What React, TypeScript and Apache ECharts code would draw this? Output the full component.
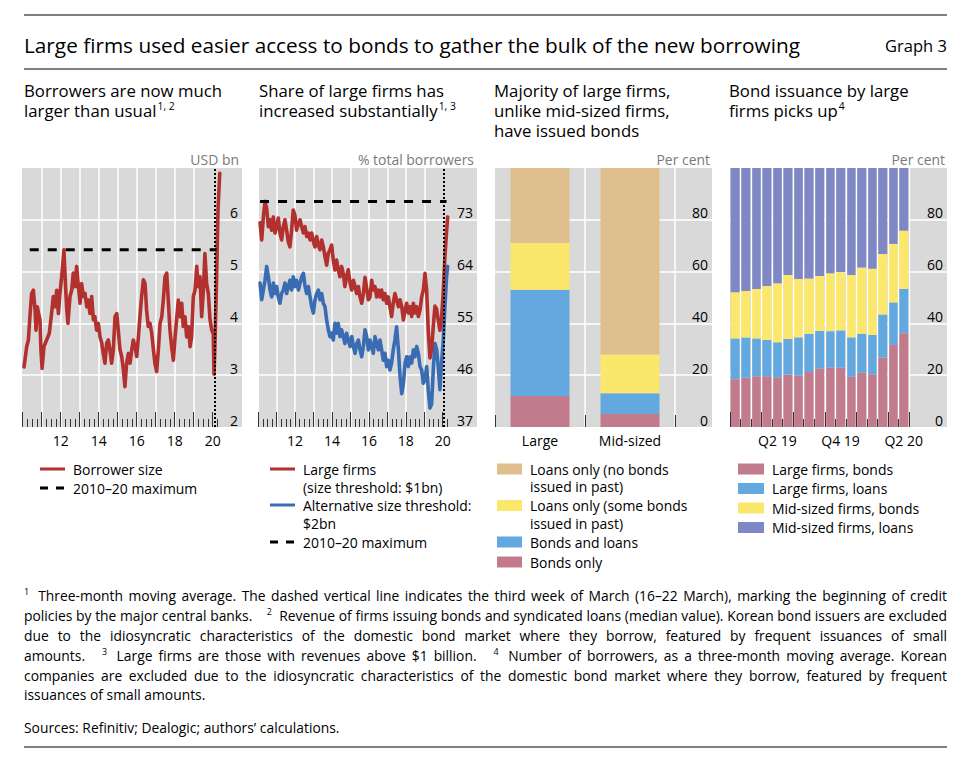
import React, { useEffect, useRef } from 'react';
import * as echarts from 'echarts';

// ---------------- DATA ----------------
// Panel 1: median borrower size, USD bn (decimal year, value)
const p1BorrowerSize: [number, number][] = [
  [2010.07, 3.16], [2010.21, 3.55], [2010.30, 3.68], [2010.38, 4.13], [2010.47, 4.58], [2010.56, 4.64],
  [2010.65, 4.26], [2010.70, 3.87], [2010.77, 4.32], [2010.84, 4.19], [2010.91, 4.07], [2010.96, 3.49],
  [2011.02, 3.13], [2011.12, 3.55], [2011.26, 3.68], [2011.40, 3.81], [2011.52, 4.19], [2011.61, 4.52],
  [2011.70, 4.32], [2011.79, 4.64], [2011.88, 4.19], [2011.96, 4.58], [2012.05, 4.90], [2012.10, 5.10],
  [2012.17, 5.42], [2012.24, 4.84], [2012.31, 4.32], [2012.38, 4.00], [2012.49, 4.52], [2012.58, 4.64],
  [2012.66, 4.97], [2012.75, 4.71], [2012.84, 5.10], [2012.93, 4.71], [2013.02, 4.39], [2013.10, 4.77],
  [2013.19, 4.52], [2013.28, 4.58], [2013.37, 4.32], [2013.45, 4.45], [2013.54, 4.19], [2013.63, 4.52],
  [2013.72, 4.07], [2013.80, 4.13], [2013.89, 3.87], [2013.98, 4.00], [2014.07, 3.74], [2014.16, 3.62],
  [2014.24, 3.42], [2014.33, 3.23], [2014.42, 3.62], [2014.51, 3.68], [2014.59, 3.49], [2014.68, 3.23],
  [2014.77, 3.49], [2014.86, 4.13], [2014.95, 4.19], [2015.03, 3.87], [2015.12, 3.49], [2015.21, 3.36],
  [2015.30, 3.10], [2015.38, 2.78], [2015.47, 3.23], [2015.56, 3.42], [2015.65, 3.23], [2015.74, 3.49],
  [2015.82, 3.68], [2015.91, 3.55], [2016.00, 3.36], [2016.09, 3.74], [2016.17, 4.13], [2016.26, 4.52],
  [2016.35, 4.84], [2016.44, 4.77], [2016.52, 4.26], [2016.61, 3.94], [2016.70, 4.00], [2016.79, 3.81],
  [2016.88, 3.49], [2016.96, 3.23], [2017.05, 3.07], [2017.14, 3.49], [2017.23, 4.00], [2017.32, 4.13],
  [2017.40, 4.45], [2017.49, 4.90], [2017.58, 4.97], [2017.67, 4.39], [2017.75, 3.87], [2017.84, 3.55],
  [2017.93, 3.29], [2018.02, 3.74], [2018.10, 4.07], [2018.19, 4.45], [2018.28, 4.13], [2018.37, 4.39],
  [2018.45, 3.94], [2018.54, 4.13], [2018.63, 3.74], [2018.72, 3.94], [2018.81, 3.55], [2018.89, 3.74],
  [2018.98, 4.52], [2019.07, 4.64], [2019.16, 5.10], [2019.24, 4.71], [2019.33, 4.90], [2019.42, 4.13],
  [2019.51, 4.64], [2019.59, 5.35], [2019.68, 4.77], [2019.77, 4.58], [2019.86, 4.07], [2019.95, 3.87],
  [2020.03, 3.80], [2020.07, 3.02], [2020.12, 3.60], [2020.20, 4.80], [2020.28, 6.20], [2020.37, 6.90],
];
const p1Maximum = 5.42;
const p1MaximumSpan = [2010.37, 2020.2];
const p1PolicyWeek = 2020.12;

// Panel 2: share of large firms, % of total borrowers
const p2LargeFirms: [number, number][] = [
  [2010.10, 72.5], [2010.19, 69.5], [2010.28, 73.5], [2010.37, 76.2], [2010.46, 75.0], [2010.55, 71.8],
  [2010.64, 73.0], [2010.73, 71.2], [2010.82, 73.5], [2010.91, 70.7], [2011.00, 71.8], [2011.09, 73.3],
  [2011.18, 70.7], [2011.27, 69.5], [2011.36, 71.8], [2011.45, 73.0], [2011.54, 71.2], [2011.63, 69.2],
  [2011.72, 68.3], [2011.81, 71.2], [2011.90, 74.7], [2011.99, 73.8], [2012.08, 71.2], [2012.18, 72.4],
  [2012.27, 73.0], [2012.36, 71.8], [2012.45, 70.7], [2012.54, 71.8], [2012.63, 70.1], [2012.72, 70.7],
  [2012.81, 69.5], [2012.90, 70.7], [2012.99, 69.2], [2013.08, 68.3], [2013.17, 70.1], [2013.26, 68.6],
  [2013.35, 67.8], [2013.44, 69.5], [2013.53, 68.3], [2013.62, 66.6], [2013.71, 65.1], [2013.80, 67.2],
  [2013.89, 67.8], [2013.98, 68.6], [2014.07, 66.0], [2014.16, 64.3], [2014.25, 66.0], [2014.34, 64.3],
  [2014.43, 63.1], [2014.52, 64.9], [2014.61, 63.7], [2014.70, 61.4], [2014.79, 63.1], [2014.88, 64.3],
  [2014.98, 62.0], [2015.07, 60.8], [2015.16, 62.5], [2015.25, 61.4], [2015.34, 60.2], [2015.43, 61.4],
  [2015.52, 59.6], [2015.61, 58.5], [2015.70, 60.2], [2015.79, 63.0], [2015.88, 61.0], [2015.97, 59.1],
  [2016.06, 59.6], [2016.15, 62.5], [2016.24, 60.8], [2016.33, 61.4], [2016.42, 59.6], [2016.51, 60.8],
  [2016.60, 59.6], [2016.69, 60.8], [2016.78, 59.1], [2016.87, 60.2], [2016.96, 58.5], [2017.05, 59.6],
  [2017.14, 57.9], [2017.23, 56.2], [2017.32, 58.5], [2017.41, 60.2], [2017.50, 59.1], [2017.60, 57.9],
  [2017.69, 59.1], [2017.78, 57.9], [2017.87, 55.6], [2017.96, 57.3], [2018.05, 58.5], [2018.14, 56.8],
  [2018.23, 57.9], [2018.32, 56.2], [2018.41, 58.5], [2018.50, 56.8], [2018.59, 57.9], [2018.68, 56.2],
  [2018.77, 57.3], [2018.86, 59.6], [2018.95, 60.8], [2019.04, 63.7], [2019.13, 60.8], [2019.22, 53.5],
  [2019.31, 49.0], [2019.40, 50.5], [2019.49, 54.5], [2019.58, 58.0], [2019.67, 57.5], [2019.76, 55.5],
  [2019.85, 53.8], [2019.94, 56.0], [2020.03, 60.5], [2020.12, 66.5], [2020.21, 71.0], [2020.27, 73.5],
];
const p2AltThreshold: [number, number][] = [
  [2010.10, 62.0], [2010.19, 59.1], [2010.28, 60.8], [2010.37, 62.5], [2010.46, 64.9], [2010.55, 63.1],
  [2010.64, 60.8], [2010.73, 59.6], [2010.82, 62.0], [2010.91, 60.2], [2011.00, 61.4], [2011.09, 59.6],
  [2011.18, 58.5], [2011.27, 60.2], [2011.36, 60.8], [2011.45, 62.0], [2011.54, 60.2], [2011.63, 61.4],
  [2011.72, 62.5], [2011.81, 60.8], [2011.90, 63.1], [2011.99, 61.4], [2012.08, 62.5], [2012.18, 60.8],
  [2012.27, 62.0], [2012.36, 63.1], [2012.45, 63.7], [2012.54, 61.4], [2012.63, 60.2], [2012.72, 61.4],
  [2012.81, 59.6], [2012.90, 57.9], [2012.99, 56.8], [2013.08, 59.1], [2013.17, 60.2], [2013.26, 60.8],
  [2013.35, 59.1], [2013.44, 60.2], [2013.53, 58.5], [2013.62, 57.9], [2013.71, 55.6], [2013.80, 53.9],
  [2013.89, 52.7], [2013.98, 53.3], [2014.07, 52.1], [2014.16, 55.0], [2014.25, 53.3], [2014.34, 55.0],
  [2014.43, 52.7], [2014.52, 53.9], [2014.61, 52.7], [2014.70, 51.5], [2014.79, 53.3], [2014.88, 52.1],
  [2014.98, 51.0], [2015.07, 52.7], [2015.16, 51.0], [2015.25, 49.8], [2015.34, 51.5], [2015.43, 52.1],
  [2015.52, 50.4], [2015.61, 49.2], [2015.70, 51.0], [2015.79, 53.9], [2015.88, 52.7], [2015.97, 50.4],
  [2016.06, 52.1], [2016.15, 51.0], [2016.24, 49.8], [2016.33, 52.7], [2016.42, 51.5], [2016.51, 50.4],
  [2016.60, 52.1], [2016.69, 50.4], [2016.78, 48.6], [2016.87, 49.8], [2016.96, 47.5], [2017.05, 48.6],
  [2017.14, 46.9], [2017.23, 48.1], [2017.32, 50.4], [2017.41, 52.1], [2017.50, 54.4], [2017.60, 50.4],
  [2017.69, 45.7], [2017.78, 42.8], [2017.87, 44.6], [2017.96, 48.1], [2018.05, 49.2], [2018.14, 47.5],
  [2018.23, 49.2], [2018.32, 48.1], [2018.41, 50.4], [2018.50, 49.2], [2018.59, 51.0], [2018.68, 49.8],
  [2018.77, 47.5], [2018.86, 46.9], [2018.95, 44.6], [2019.04, 45.2], [2019.13, 47.5], [2019.22, 43.4],
  [2019.31, 40.3], [2019.40, 41.0], [2019.49, 47.0], [2019.58, 51.5], [2019.67, 50.5], [2019.76, 47.5],
  [2019.85, 43.5], [2019.94, 48.1], [2020.03, 52.1], [2020.12, 57.9], [2020.21, 63.1], [2020.27, 64.9],
];
const p2Maximum = 76.2;
const p2MaximumSpan = [2010.1, 2020.21];
const p2PolicyWeek = 2020.03;

const yearTickLabels = [2012, 2014, 2016, 2018, 2020];

// Panel 3: per cent of firms
const p3Categories = ['Large', 'Mid-sized'];
const p3BondsOnly = [12, 5];
const p3BondsAndLoans = [41, 8];
const p3LoansSomeBonds = [18, 15];
const p3LoansNoBonds = [29, 72];

// Panel 4: per cent of borrowers, monthly
const p4Months = [
  '2019-01', '2019-02', '2019-03', '2019-04', '2019-05', '2019-06', '2019-07', '2019-08', '2019-09',
  '2019-10', '2019-11', '2019-12', '2020-01', '2020-02', '2020-03', '2020-04', '2020-05',
];
const p4LabelMonths = ['2019-05', '2019-11', '2020-05'];
const p4LargeBonds = [18.4, 19.0, 19.6, 19.6, 19.0, 20.3, 19.8, 21.2, 22.6, 23.0, 22.9, 19.4, 21.0, 20.4, 26.8, 31.7, 36.2];
const p4LargeLoans = [15.8, 15.6, 14.6, 14.0, 13.7, 13.7, 14.8, 14.7, 14.5, 14.0, 14.4, 15.2, 15.0, 15.1, 16.6, 16.4, 17.1];
const p4MidBonds = [17.8, 17.9, 19.1, 20.8, 22.8, 24.7, 22.5, 21.4, 21.2, 22.4, 22.5, 24.1, 25.6, 25.6, 23.4, 22.6, 22.5];
const p4MidLoans = [48.0, 47.5, 46.7, 45.6, 44.5, 41.3, 42.9, 42.7, 41.7, 40.6, 40.2, 41.3, 38.4, 38.9, 33.2, 29.3, 24.2];

// ---------------- TEXTS ----------------
const mainTitle = 'Large firms used easier access to bonds to gather the bulk of the new borrowing';
const graphNo = 'Graph 3';
const panelTitles = [
  { x: 24, lines: ['Borrowers are now much', 'larger than usual'], sup: '1, 2', widths: [196.8, 130.4] },
  { x: 259, lines: ['Share of large firms has', 'increased substantially'], sup: '1, 3', widths: [186.2, 173.5] },
  { x: 494, lines: ['Majority of large firms,', 'unlike mid-sized firms,', 'have issued bonds'], sup: '', widths: [180, 178, 145.5] },
  { x: 729, lines: ['Bond issuance by large', 'firms picks up'], sup: '4', widths: [183, 107] },
];
const unitLabels = [['USD bn', 239], ['% total borrowers', 474], ['Per cent', 710], ['Per cent', 945]];
const footnoteLines = [
  '^1  Three-month moving average. The dashed vertical line indicates the third week of March (16–22 March), marking the beginning of credit',
  'policies by the major central banks.    ^2  Revenue of firms issuing bonds and syndicated loans (median value). Korean bond issuers are excluded',
  'due to the idiosyncratic characteristics of the domestic bond market where they borrow, featured by frequent issuances of small',
  'amounts.    ^3  Large firms are those with revenues above $1 billion.    ^4  Number of borrowers, as a three-month moving average. Korean',
  'companies are excluded due to the idiosyncratic characteristics of the domestic bond market where they borrow, featured by frequent',
  'issuances of small amounts.',
];
const sourcesLine = 'Sources: Refinitiv; Dealogic; authors’ calculations.';

// ---------------- STYLE ----------------
const FONT = "'Open Sans', 'Noto Sans', 'DejaVu Sans', sans-serif";
const RED = '#b2302e';
const BLUE = '#3a6cb4';
const TAN = '#dfbf8e';
const YELLOW = '#fce76d';
const LBLUE = '#63a9e0';
const PINK = '#c27b8c';
const PURPLE = '#7f88c5';
const BG = '#d9d9d9';
const TICK = '#333333';
const GRID_TOP = 168;
const GRID_H = 259;

let _ctx: any = null;
function measure(text: string, size: number): number {
  if (!_ctx) _ctx = document.createElement('canvas').getContext('2d');
  _ctx.font = `${size}px 'Open Sans', 'Noto Sans', sans-serif`;
  return _ctx.measureText(text).width;
}

function T(text: string, x: number, y: number, size: number, o: any = {}) {
  return {
    type: 'text', x, y, silent: true, scaleX: o.scaleX ?? 1,
    style: {
      text, fontSize: size, fontFamily: FONT, fill: o.color ?? '#000',
      textAlign: o.align ?? 'left', textVerticalAlign: 'middle', verticalAlign: 'middle',
    },
  };
}
function L(x1: number, y1: number, x2: number, y2: number, stroke: string, lineWidth: number, lineDash?: number[]) {
  const style: any = { stroke, lineWidth };
  if (lineDash) style.lineDash = lineDash;
  return { type: 'line', silent: true, shape: { x1, y1, x2, y2 }, style };
}
function R(x: number, y: number, width: number, height: number, fill: string) {
  return { type: 'rect', silent: true, shape: { x, y, width, height }, style: { fill } };
}

function parseLine(line: string) {
  const parts = line.split(' ');
  const words: { text: string; sup: boolean; gaps: number }[] = [];
  let pending = 0;
  for (const p of parts) {
    if (p === '') { pending++; continue; }
    const sup = p.startsWith('^');
    words.push({ text: sup ? p.slice(1) : p, sup, gaps: words.length ? pending + 1 : 0 });
    pending = 0;
  }
  return words;
}

function buildGraphics() {
  const g: any[] = [];
  g.push(L(24, 15, 947, 15, '#000', 1.2));
  g.push(L(24, 69, 947, 69, '#000', 1.2));
  g.push(L(24, 747, 947, 747, '#000', 1.2));
  g.push(T(mainTitle, 24, 45, 20, { scaleX: 777 / measure(mainTitle, 20) }));
  g.push(T(graphNo, 947, 46, 16, { align: 'right', scaleX: 62 / measure(graphNo, 16) }));

  // panel titles
  let st = 0, sm = 0;
  panelTitles.forEach((p) => p.lines.forEach((l, i) => { st += p.widths[i]; sm += measure(l, 17); }));
  const pr = st / sm;
  panelTitles.forEach((p) => {
    p.lines.forEach((l, i) => g.push(T(l, p.x, 90 + i * 20, 17, { scaleX: pr })));
    if (p.sup) {
      const last = p.lines[p.lines.length - 1];
      const yy = 90 + (p.lines.length - 1) * 20;
      g.push(T(p.sup, p.x + measure(last, 17) * pr + 1, yy - 4, 10.5, { scaleX: pr }));
    }
  });

  // legend/text ratio
  const lr = (88.4 + 170 + 124) /
    (measure('Borrower size', 14) + measure('Alternative size threshold:', 14) + measure('2010–20 maximum', 14));

  unitLabels.forEach(([t, x]) => g.push(T(t as string, x as number, 159, 14, { align: 'right', color: '#7a7a7a', scaleX: lr })));

  // Legend panel 1
  g.push(L(40, 469, 65, 469, RED, 3));
  g.push(T('Borrower size', 73, 469, 14, { scaleX: lr }));
  g.push(L(40, 488, 65, 488, '#000', 3, [8, 8]));
  g.push(T('2010–20 maximum', 73, 488, 14, { scaleX: lr }));
  // Legend panel 2
  g.push(L(270, 469, 295, 469, RED, 3));
  g.push(T('Large firms', 303, 469, 14, { scaleX: lr }));
  g.push(T('(size threshold: $1bn)', 303, 487, 14, { scaleX: lr }));
  g.push(L(270, 505, 295, 505, BLUE, 3));
  g.push(T('Alternative size threshold:', 303, 505, 14, { scaleX: lr }));
  g.push(T('$2bn', 303, 523, 14, { scaleX: lr }));
  g.push(L(270, 542, 295, 542, '#000', 3, [8, 8]));
  g.push(T('2010–20 maximum', 303, 542, 14, { scaleX: lr }));
  // Legend panel 3
  const p3Leg: [string, string[], number][] = [
    [TAN, ['Loans only (no bonds', 'issued in past)'], 469],
    [YELLOW, ['Loans only (some bonds', 'issued in past)'], 505.5],
    [LBLUE, ['Bonds and loans'], 542],
    [PINK, ['Bonds only'], 562],
  ];
  p3Leg.forEach(([c, lines, y]) => {
    g.push(R(497, y - 5.5, 25, 11, c));
    lines.forEach((l, i) => g.push(T(l, 530, y + i * 17.5, 14, { scaleX: lr })));
  });
  // Legend panel 4
  const p4Leg: [string, string, number][] = [
    [PINK, 'Large firms, bonds', 469],
    [LBLUE, 'Large firms, loans', 488.5],
    [YELLOW, 'Mid-sized firms, bonds', 508],
    [PURPLE, 'Mid-sized firms, loans', 527.5],
  ];
  p4Leg.forEach(([c, t, y]) => {
    g.push(R(738, y - 5.5, 26, 11, c));
    g.push(T(t, 772, y, 14, { scaleX: lr }));
  });

  // Footnotes (justified)
  const FS = 14, SS = 9, target = 923, x0 = 24;
  const ys = [595, 615, 635, 655, 675, 694];
  const parsed = footnoteLines.map(parseLine);
  const sp = measure(' ', FS);
  const nat = parsed.map((ws) => ws.reduce((a, w) => a + measure(w.text, w.sup ? SS : FS) + w.gaps * sp, 0));
  const s = Math.min(1, (target - 2) / Math.max(...nat.slice(0, 5)));
  parsed.forEach((ws, li) => {
    const justify = li < 5;
    const boundaries = ws.length - 1;
    const extra = justify ? (target - nat[li] * s) / boundaries : 0;
    let x = x0;
    ws.forEach((w, i) => {
      if (i > 0) x += w.gaps * sp * s + extra;
      const width = measure(w.text, w.sup ? SS : FS) * s;
      g.push(T(w.text, x, w.sup ? ys[li] - 4 : ys[li], w.sup ? SS : FS, { scaleX: s }));
      x += width;
    });
  });
  g.push(T(sourcesLine, 24, 727, FS, { scaleX: s }));
  return g;
}

const axisText = { color: '#000', fontSize: 14, fontFamily: FONT };
const whiteSplit = { color: '#ffffff', width: 1.5 };

function bgY(gridIndex: number, min: number, max: number, interval: number) {
  return {
    type: 'value', gridIndex, min, max, interval, position: 'right',
    axisLine: { show: false }, axisTick: { show: false },
    axisLabel: { inside: true, margin: 4, verticalAlign: 'bottom', showMaxLabel: false, showMinLabel: true, ...axisText },
    splitLine: { show: true, showMinLine: false, showMaxLine: false, lineStyle: whiteSplit },
  };
}
function hiddenY(gridIndex: number, min: number, max: number) {
  return { type: 'value', gridIndex, min, max, show: false };
}
function hiddenX(gridIndex: number) {
  return { type: 'value', gridIndex, min: 0, max: 1, show: false };
}
function yearAxis(gridIndex: number) {
  return {
    type: 'value', gridIndex, min: 2010, max: 2020.5, interval: 1,
    axisLine: { show: false },
    axisTick: {
      show: true, inside: true, length: 15, lineStyle: { color: TICK, width: 1 },
      customValues: [2010, 2011, 2012, 2013, 2014, 2015, 2016, 2017, 2018, 2019, 2020],
    },
    minorTick: { show: true, splitNumber: 4, length: 8, lineStyle: { color: TICK, width: 1 } },
    minorSplitLine: { show: false },
    axisLabel: {
      margin: 6, showMinLabel: true, showMaxLabel: true, ...axisText,
      formatter: (v: number) => (yearTickLabels.includes(v) ? String(v).slice(2) : ''),
    },
    splitLine: { show: true, showMinLine: false, showMaxLine: false, lineStyle: whiteSplit },
  };
}

function lineSeries(data: [number, number][], color: string, axis: number, z: number) {
  return {
    type: 'line', xAxisIndex: axis, yAxisIndex: axis, data, symbol: 'none', showSymbol: false, silent: true, z,
    lineStyle: { color, width: 3.6, cap: 'round', join: 'round' },
  };
}
function maxSeries(span: number[], value: number, axis: number, policy: number) {
  return {
    type: 'line', xAxisIndex: axis, yAxisIndex: axis, symbol: 'none', showSymbol: false, silent: true, z: 5,
    data: [[span[0], value], [span[1], value]],
    lineStyle: { color: '#000', width: 3, type: [9, 9] },
    markLine: {
      symbol: ['none', 'none'], silent: true, label: { show: false },
      lineStyle: { color: '#000', width: 2, type: [2, 2] },
      data: [{ xAxis: policy }],
    },
  };
}
function barSeries(data: number[], color: string, stack: string, axis: number, extra: any) {
  return {
    type: 'bar', stack, xAxisIndex: axis, yAxisIndex: axis, data, silent: true,
    itemStyle: { color }, ...extra,
  };
}

function buildOption(): any {
  const gridBase = { top: GRID_TOP, height: GRID_H, containLabel: false, outerBoundsMode: 'none', borderWidth: 0 };
  const bg = { show: true, backgroundColor: BG };
  const grid = [
    { ...gridBase, ...bg, left: 22, width: 220 },
    { ...gridBase, left: 22.7, width: 10.5 * 19 },
    { ...gridBase, ...bg, left: 259, width: 218 },
    { ...gridBase, left: 258.2, width: 10.5 * 18.45 },
    { ...gridBase, ...bg, left: 495, width: 217 },
    { ...gridBase, left: 495, width: 180 },
    { ...gridBase, ...bg, left: 730, width: 217 },
    { ...gridBase, left: 730, width: 179 },
  ];
  const xAxis = [
    hiddenX(0),
    yearAxis(1),
    hiddenX(2),
    yearAxis(3),
    hiddenX(4),
    {
      type: 'category', gridIndex: 5, data: p3Categories, position: 'bottom',
      axisLine: { show: false },
      axisTick: { show: true, inside: true, length: 12, interval: 0, lineStyle: { color: TICK, width: 1 } },
      axisLabel: { interval: 0, margin: 6, ...axisText },
      splitLine: { show: true, interval: 0, showMinLine: false, lineStyle: whiteSplit },
    },
    hiddenX(6),
    {
      type: 'category', gridIndex: 7, data: p4Months, position: 'bottom', z: 10,
      axisLine: { show: false },
      axisTick: { show: true, inside: true, length: 8, interval: 0, lineStyle: { color: TICK, width: 1 } },
      axisLabel: {
        margin: 6, ...axisText,
        interval: (i: number, v: string) => p4LabelMonths.includes(v),
        formatter: (v: string) => {
          const [y, m] = v.split('-');
          return `Q${Math.ceil(Number(m) / 3)} ${y.slice(2)}`;
        },
      },
      splitLine: { show: true, interval: 0, showMinLine: false, lineStyle: { color: '#ffffff', width: 1.3 } },
    },
    {
      type: 'category', gridIndex: 7, data: p4Months, position: 'bottom', offset: 0, z: 10,
      axisLine: { show: false },
      axisTick: { show: true, inside: true, length: 15, interval: (i: number) => i % 3 === 0, lineStyle: { color: TICK, width: 1 } },
      axisLabel: { show: false },
      splitLine: { show: false },
    },
  ];
  const yAxis = [
    bgY(0, 2, 7, 1),
    hiddenY(1, 2, 7),
    bgY(2, 37, 82, 9),
    hiddenY(3, 37, 82),
    bgY(4, 0, 100, 20),
    hiddenY(5, 0, 100),
    bgY(6, 0, 100, 20),
    hiddenY(7, 0, 100),
  ];
  const series: any[] = [
    lineSeries(p1BorrowerSize, RED, 1, 3),
    maxSeries(p1MaximumSpan, p1Maximum, 1, p1PolicyWeek),
    lineSeries(p2AltThreshold, BLUE, 3, 3),
    lineSeries(p2LargeFirms, RED, 3, 4),
    maxSeries(p2MaximumSpan, p2Maximum, 3, p2PolicyWeek),
    barSeries(p3BondsOnly, PINK, 'p3', 5, { barWidth: 59 }),
    barSeries(p3BondsAndLoans, LBLUE, 'p3', 5, { barWidth: 59 }),
    barSeries(p3LoansSomeBonds, YELLOW, 'p3', 5, { barWidth: 59 }),
    barSeries(p3LoansNoBonds, TAN, 'p3', 5, { barWidth: 59 }),
    barSeries(p4LargeBonds, PINK, 'p4', 7, { barCategoryGap: '12%' }),
    barSeries(p4LargeLoans, LBLUE, 'p4', 7, { barCategoryGap: '12%' }),
    barSeries(p4MidBonds, YELLOW, 'p4', 7, { barCategoryGap: '12%' }),
    barSeries(p4MidLoans, PURPLE, 'p4', 7, { barCategoryGap: '12%' }),
  ];
  return {
    animation: false,
    backgroundColor: '#ffffff',
    textStyle: { fontFamily: FONT },
    grid, xAxis, yAxis, series,
    graphic: { elements: buildGraphics() },
  };
}

export default function App() {
  const ref = useRef<HTMLDivElement>(null);
  useEffect(() => {
    if (!ref.current) return;
    const chart = echarts.init(ref.current, undefined, { renderer: 'svg' });
    chart.setOption(buildOption());
    return () => chart.dispose();
  }, []);
  return (
    <div
      ref={ref}
      style={{ position: 'absolute', left: 0, top: 0, width: 974, height: 764, background: '#fff' }}
    />
  );
}
